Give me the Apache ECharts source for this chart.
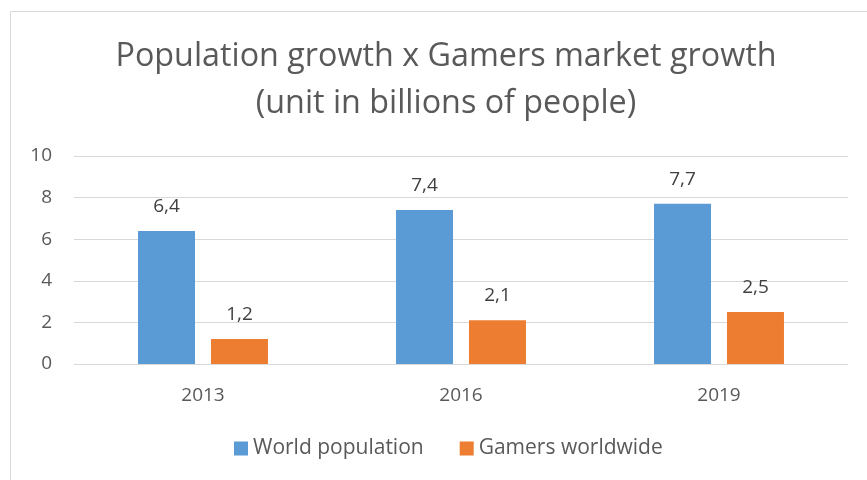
<!DOCTYPE html>
<html>
<head>
<meta charset="utf-8">
<script src="https://cdn.jsdelivr.net/npm/echarts@6/dist/echarts.min.js"></script>
<style>
  html, body { margin: 0; padding: 0; background: #fff; }
  #chart { width: 867px; height: 480px; }
</style>
</head>
<body>
<div id="chart"></div>
<script>
const categories = ['2013', '2016', '2019'];
const worldPopulation = [6.4, 7.4, 7.7];
const gamersWorldwide = [1.2, 2.1, 2.5];
const yTicks = [0, 2, 4, 6, 8, 10];

const FONT = '"Open Sans", "Noto Sans", sans-serif';
const commaLabel = v => String(v).replace('.', ',');

const chart = echarts.init(document.getElementById('chart'), null, { renderer: 'canvas' });

chart.setOption({
  animation: false,
  textStyle: { fontFamily: FONT },
  graphic: [{
    type: 'rect',
    silent: true,
    shape: { x: 10.5, y: 11.5, width: 900, height: 500 },
    style: { fill: 'none', stroke: '#d9d9d9', lineWidth: 1 }
  }],
  title: {
    text: 'Population growth x Gamers market growth\n(unit in billions of people)',
    left: 441,
    top: 28,
    textAlign: 'center',
    textStyle: {
      fontFamily: FONT,
      fontWeight: 'normal',
      fontSize: 32.3,
      lineHeight: 47,
      color: '#595959'
    }
  },
  legend: {
    bottom: 16,
    left: 229,
    itemWidth: 14,
    itemHeight: 14,
    itemGap: 36,
    icon: 'rect',
    textStyle: { fontFamily: FONT, fontSize: 21, color: '#595959' },
    data: ['World population', 'Gamers worldwide']
  },
  grid: { left: 74, right: 19, top: 156, bottom: 116 },
  xAxis: {
    type: 'category',
    data: categories,
    axisLine: { show: false },
    axisTick: { show: false },
    axisLabel: { fontFamily: FONT, fontSize: 19, color: '#595959', margin: 22 }
  },
  yAxis: {
    type: 'value',
    min: yTicks[0],
    max: yTicks[yTicks.length - 1],
    interval: yTicks[1] - yTicks[0],
    axisLine: { show: false },
    axisTick: { show: false },
    splitLine: { lineStyle: { color: '#d9d9d9', width: 1 } },
    axisLabel: { fontFamily: FONT, fontSize: 19, color: '#595959', margin: 22 }
  },
  series: [
    {
      name: 'World population',
      type: 'bar',
      data: worldPopulation,
      barWidth: 57,
      barGap: '28%',
      itemStyle: { color: '#5B9BD5' },
      label: {
        show: true, position: 'top', distance: 15,
        fontFamily: FONT, fontSize: 19, color: '#404040',
        formatter: p => commaLabel(p.value)
      }
    },
    {
      name: 'Gamers worldwide',
      type: 'bar',
      data: gamersWorldwide,
      barWidth: 57,
      barGap: '28%',
      itemStyle: { color: '#ED7D31' },
      label: {
        show: true, position: 'top', distance: 15,
        fontFamily: FONT, fontSize: 19, color: '#404040',
        formatter: p => commaLabel(p.value)
      }
    }
  ]
});
</script>
</body>
</html>
